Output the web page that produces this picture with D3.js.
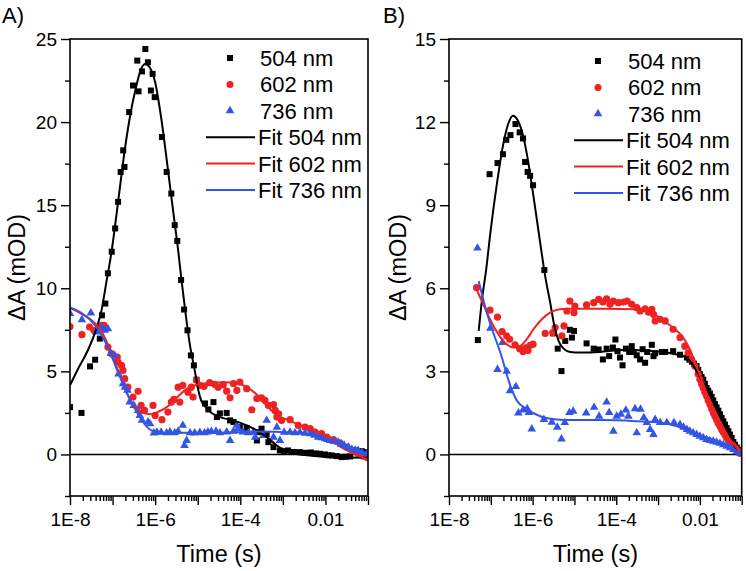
<!DOCTYPE html>
<html><head><meta charset="utf-8">
<script src="https://cdn.jsdelivr.net/npm/d3@7/dist/d3.min.js"></script>
<style>
body{margin:0;background:#fff}
text{font-family:"Liberation Sans",Arial,Helvetica,sans-serif;fill:#000}
</style>
</head><body>
<svg id="chart" width="746" height="571"></svg>
<script>
// ---------- tick labels / legend names ----------
const xTickValues = [1e-8, 1e-6, 1e-4, 1e-2];
const xTickLabels = ["1E-8", "1E-6", "1E-4", "0.01"];
const yTicksA = [0, 5, 10, 15, 20, 25];
const yTicksB = [0, 3, 6, 9, 12, 15];
const scatterNames = ["504 nm", "602 nm", "736 nm"];
const fitNames = ["Fit 504 nm", "Fit 602 nm", "Fit 736 nm"];

// ---------- data: [log10(time / s), ΔA (mOD)] ----------
// Panel A
const a504 = [[-8.00,2.85],[-7.73,2.5],[-7.53,5.3],[-7.41,5.7],[-7.30,6.97],[-7.25,8.37],[-7.17,9.08],[-7.11,10.9],[-7.02,12.2],[-6.94,13.6],[-6.87,15.2],[-6.81,17.0],[-6.75,18.3],[-6.72,17.3],[-6.61,20.6],[-6.52,22.2],[-6.42,23.7],[-6.39,21.85],[-6.31,23.05],[-6.23,24.4],[-6.17,23.6],[-6.10,21.9],[-6.06,22.9],[-6.01,21.5],[-5.84,19.1],[-5.73,17.0],[-5.62,15.7],[-5.54,13.8],[-5.48,12.85],[-5.39,10.5],[-5.32,8.72],[-5.24,7.47],[-5.16,5.96],[-5.09,5.36],[-5.03,4.5],[-4.83,3.07],[-4.75,2.71],[-4.63,3.15],[-4.55,2.25],[-4.48,2.47],[-4.32,2.5],[-4.24,2.05],[-4.16,1.95],[-4.01,1.64],[-3.85,1.6],[-3.61,0.84],[-3.58,1.34],[-3.50,1.55],[-3.38,1.2],[-3.34,0.74],[-3.22,0.44],[-3.07,0.24],[-2.97,0.2],[-2.88,0.24],[-2.74,0.15],[-2.60,0.14],[-2.47,0.1],[-2.34,0.12],[-2.23,0.06],[-2.13,0.04],[-2.01,0.0],[-1.93,-0.05],[-1.85,-0.06],[-1.74,-0.1],[-1.62,-0.16],[-1.52,-0.14],[-1.42,-0.12],[-1.30,0.24],[-1.22,0.1],[-1.15,0.2],[-1.03,0.14]];
const a602 = [[-8.0,7.7],[-7.72,7.21],[-7.54,7.67],[-7.44,7.47],[-7.26,7.77],[-7.20,7.77],[-7.11,6.46],[-7.03,6.07],[-6.89,5.86],[-6.87,5.56],[-6.79,5.36],[-6.755,5.06],[-6.715,4.56],[-6.64,4.05],[-6.52,3.45],[-6.40,3.8],[-6.33,2.95],[-6.25,2.65],[-6.05,2.95],[-6.0,2.35],[-5.84,2.09],[-5.70,2.55],[-5.62,3.15],[-5.56,3.31],[-5.46,4.05],[-5.42,3.15],[-5.35,4.16],[-5.23,3.75],[-5.15,4.05],[-5.11,3.45],[-5.03,4.46],[-4.95,4.16],[-4.85,4.1],[-4.72,4.32],[-4.60,4.22],[-4.52,4.05],[-4.40,4.2],[-4.32,3.81],[-4.24,3.41],[-4.16,4.26],[-4.08,3.86],[-4.01,4.36],[-3.85,3.96],[-3.73,2.69],[-3.61,3.36],[-3.50,3.4],[-3.42,3.25],[-3.34,2.95],[-3.22,3.0],[-3.18,2.65],[-3.14,2.25],[-3.10,2.45],[-3.03,2.05],[-2.83,2.09],[-2.64,1.75],[-2.48,1.64],[-2.36,1.55],[-2.245,1.34],[-2.09,1.25],[-1.97,1.04],[-1.81,0.9],[-1.66,0.7],[-1.50,0.45],[-1.35,0.25],[-1.23,0.05],[-1.12,-0.1],[-1.02,-0.2]];
const a736 = [[-8.0,8.48],[-7.72,8.11],[-7.51,8.51],[-7.38,7.37],[-7.26,7.63],[-7.185,7.47],[-7.11,7.57],[-7.04,6.07],[-6.95,5.96],[-6.86,4.84],[-6.755,4.26],[-6.71,4.05],[-6.65,3.86],[-6.60,3.15],[-6.50,2.95],[-6.40,2.65],[-6.36,2.35],[-6.31,2.05],[-6.17,1.95],[-6.12,1.85],[-6.03,1.29],[-5.96,1.34],[-5.86,1.34],[-5.73,1.3],[-5.65,1.35],[-5.54,1.3],[-5.46,1.4],[-5.35,1.75],[-5.31,0.54],[-5.26,0.84],[-5.18,1.3],[-5.07,1.29],[-4.95,1.32],[-4.84,1.3],[-4.76,1.35],[-4.68,1.38],[-4.57,1.4],[-4.48,1.3],[-4.32,1.35],[-4.24,0.84],[-4.16,1.4],[-4.08,1.75],[-4.05,1.55],[-3.94,1.35],[-3.81,1.3],[-3.69,1.34],[-3.65,1.04],[-3.46,1.14],[-3.38,2.05],[-3.22,1.04],[-3.14,1.64],[-3.07,0.84],[-2.97,1.34],[-2.83,1.34],[-2.715,1.3],[-2.60,1.34],[-2.48,1.28],[-2.36,1.25],[-2.26,1.15],[-2.17,1.04],[-2.09,1.0],[-2.01,0.95],[-1.95,0.9],[-1.89,0.84],[-1.80,0.78],[-1.70,0.74],[-1.63,0.62],[-1.56,0.55],[-1.46,0.44],[-1.38,0.3],[-1.30,0.26],[-1.23,0.24],[-1.14,0.12],[-1.03,0.05]];
const aFit504 = [[-8.0,4.16],[-7.81,5.16],[-7.58,6.27],[-7.38,7.57],[-7.26,8.67],[-7.15,10.3],[-7.03,12.1],[-6.87,15.2],[-6.755,17.55],[-6.60,20.2],[-6.44,22.2],[-6.33,23.2],[-6.23,23.5],[-6.13,23.3],[-6.00,22.4],[-5.855,20.2],[-5.70,17.15],[-5.56,14.3],[-5.46,12.3],[-5.39,10.7],[-5.31,9.0],[-5.19,6.7],[-5.07,5.06],[-4.98,3.8],[-4.92,3.25],[-4.83,2.9],[-4.75,2.65],[-4.48,2.25],[-4.17,2.05],[-3.85,1.75],[-3.54,1.34],[-3.38,1.04],[-3.14,0.54],[-2.91,0.14],[-2.60,0.0],[-1.82,-0.16],[-1.0,-0.2]];
const aFit602 = [[-8.0,8.8],[-7.72,8.45],[-7.48,8.05],[-7.31,7.6],[-7.16,6.9],[-7.0,5.86],[-6.84,4.86],[-6.68,3.8],[-6.53,3.05],[-6.3,2.5],[-6.1,2.42],[-5.9,2.6],[-5.7,2.9],[-5.5,3.4],[-5.26,3.95],[-5.03,4.2],[-4.72,4.3],[-4.4,4.35],[-4.08,4.28],[-3.85,4.05],[-3.61,3.6],[-3.38,2.95],[-3.14,2.35],[-2.9,2.1],[-2.58,1.75],[-2.26,1.45],[-1.95,1.05],[-1.64,0.45],[-1.33,0.04],[-1.0,-0.32]];
const aFit736 = [[-8.0,8.85],[-7.72,8.5],[-7.42,7.8],[-7.1,6.4],[-6.86,4.86],[-6.62,3.45],[-6.36,2.25],[-6.17,1.6],[-6.03,1.38],[-5.86,1.3],[-5.5,1.3],[-4.95,1.3],[-4.17,1.34],[-3.54,1.38],[-2.91,1.34],[-2.44,1.25],[-2.13,1.04],[-1.81,0.74],[-1.5,0.34],[-1.19,0.08],[-1.0,0.0]];

// Panel B
const b504 = [[-7.31,4.13],[-7.03,10.12],[-6.84,10.52],[-6.71,10.84],[-6.63,11.36],[-6.53,11.53],[-6.41,11.93],[-6.31,11.63],[-6.23,11.41],[-6.18,10.56],[-6.12,10.2],[-6.06,10.06],[-5.99,9.72],[-5.72,6.66],[-5.51,4.37],[-5.40,3.82],[-5.31,3.01],[-5.22,4.1],[-5.11,4.5],[-5.06,4.22],[-5.01,4.46],[-4.71,4.01],[-4.54,3.82],[-4.42,3.79],[-4.32,3.43],[-4.23,3.82],[-4.17,3.55],[-4.08,3.86],[-4.02,4.15],[-3.97,3.73],[-3.91,3.5],[-3.85,3.22],[-3.77,3.82],[-3.69,3.7],[-3.63,3.91],[-3.58,3.7],[-3.51,3.58],[-3.43,3.43],[-3.37,3.8],[-3.31,3.31],[-3.26,3.7],[-3.15,3.96],[-3.11,3.55],[-3.07,3.65],[-2.91,3.7],[-2.83,3.7],[-2.64,3.73],[-2.475,3.6],[-2.31,3.5],[-2.25,3.42],[-2.19,3.35],[-2.14,3.28],[-2.08,3.19],[-2.04,3.05],[-2.0,2.9],[-1.96,2.8],[-1.92,2.7],[-1.88,2.55],[-1.84,2.4],[-1.80,2.3],[-1.76,2.2],[-1.72,2.08],[-1.68,1.95],[-1.64,1.82],[-1.60,1.7],[-1.56,1.58],[-1.52,1.45],[-1.48,1.32],[-1.44,1.2],[-1.40,1.08],[-1.36,0.95],[-1.32,0.84],[-1.28,0.72],[-1.24,0.6],[-1.20,0.45],[-1.16,0.35],[-1.12,0.25],[-1.09,0.17],[-1.06,0.08],[-1.02,0.05]];
const b602 = [[-7.34,6.02],[-7.02,5.21],[-6.84,4.96],[-6.73,4.44],[-6.62,4.28],[-6.55,4.16],[-6.42,3.96],[-6.31,3.82],[-6.23,3.72],[-6.17,3.85],[-6.11,3.75],[-6.06,3.94],[-5.99,3.98],[-5.70,4.37],[-5.52,4.4],[-5.46,4.58],[-5.30,4.28],[-5.25,4.64],[-5.18,5.18],[-5.11,5.54],[-5.01,5.12],[-4.99,5.36],[-4.71,5.4],[-4.54,5.48],[-4.42,5.6],[-4.32,5.5],[-4.23,5.62],[-4.15,5.42],[-4.07,5.54],[-3.95,5.48],[-3.83,5.5],[-3.74,5.54],[-3.63,5.42],[-3.51,5.3],[-3.43,5.18],[-3.31,5.26],[-3.23,5.14],[-3.15,5.24],[-3.11,5.06],[-3.07,4.82],[-2.95,4.88],[-2.83,4.82],[-2.64,4.52],[-2.475,4.22],[-2.36,3.91],[-2.28,3.67],[-2.20,3.43],[-2.12,3.19],[-2.04,2.9],[-2.0,2.71],[-1.96,2.55],[-1.92,2.4],[-1.88,2.25],[-1.84,2.11],[-1.80,1.95],[-1.76,1.8],[-1.72,1.65],[-1.68,1.51],[-1.64,1.38],[-1.60,1.25],[-1.56,1.13],[-1.52,1.02],[-1.48,0.9],[-1.44,0.8],[-1.40,0.7],[-1.36,0.6],[-1.32,0.52],[-1.28,0.44],[-1.24,0.37],[-1.20,0.3],[-1.16,0.23],[-1.12,0.17],[-1.08,0.1],[-1.04,0.04]];
const b736 = [[-7.32,7.45],[-7.01,4.56],[-6.84,3.07],[-6.72,4.04],[-6.62,3.0],[-6.54,2.3],[-6.40,2.45],[-6.34,1.5],[-6.23,1.6],[-6.13,1.65],[-6.09,1.51],[-6.02,0.92],[-5.73,1.26],[-5.54,1.16],[-5.41,0.98],[-5.31,0.56],[-5.23,1.15],[-5.12,1.51],[-5.03,1.56],[-4.72,1.5],[-4.53,1.7],[-4.41,1.38],[-4.23,1.89],[-4.17,1.51],[-4.07,0.84],[-3.99,1.38],[-3.89,1.45],[-3.77,1.6],[-3.71,1.38],[-3.55,1.65],[-3.51,0.78],[-3.42,1.63],[-3.34,1.33],[-3.27,1.15],[-3.19,0.9],[-3.11,0.72],[-3.07,1.26],[-2.95,1.15],[-2.79,1.15],[-2.62,1.15],[-2.475,1.08],[-2.39,0.98],[-2.31,0.9],[-2.24,0.84],[-2.16,0.78],[-2.08,0.72],[-2.0,0.66],[-1.92,0.6],[-1.84,0.54],[-1.76,0.5],[-1.68,0.48],[-1.60,0.44],[-1.52,0.4],[-1.44,0.35],[-1.36,0.3],[-1.28,0.24],[-1.20,0.18],[-1.12,0.1],[-1.04,0.04]];
const bFit504 = [[-7.29,4.46],[-7.21,5.6],[-7.11,6.69],[-7.01,8.01],[-6.85,9.82],[-6.71,11.14],[-6.60,11.86],[-6.47,12.23],[-6.37,12.1],[-6.25,11.63],[-6.13,10.78],[-5.97,9.22],[-5.82,7.65],[-5.70,6.44],[-5.58,5.48],[-5.48,4.64],[-5.38,4.1],[-5.26,3.82],[-5.10,3.7],[-4.86,3.68],[-4.39,3.7],[-3.83,3.77],[-3.03,3.73],[-2.55,3.61],[-2.31,3.49],[-2.20,3.31],[-2.08,3.01],[-1.92,2.59],[-1.76,2.11],[-1.60,1.63],[-1.44,1.15],[-1.28,0.66],[-1.12,0.18],[-1.0,0.04]];
const bFit602 = [[-7.34,5.96],[-7.18,5.42],[-7.02,4.88],[-6.82,4.34],[-6.62,3.98],[-6.46,3.86],[-6.30,3.91],[-6.14,4.16],[-5.98,4.52],[-5.78,4.88],[-5.58,5.12],[-5.35,5.24],[-5.11,5.26],[-4.31,5.26],[-3.51,5.24],[-3.11,5.08],[-2.87,4.82],[-2.64,4.58],[-2.40,4.22],[-2.24,3.79],[-2.08,3.19],[-1.84,2.23],[-1.60,1.38],[-1.36,0.72],[-1.12,0.24],[-1.0,0.04]];
const bFit736 = [[-7.29,6.26],[-7.14,5.36],[-7.01,4.7],[-6.77,3.67],[-6.53,2.47],[-6.37,1.93],[-6.13,1.63],[-5.82,1.38],[-5.42,1.26],[-5.10,1.24],[-4.31,1.24],[-3.51,1.2],[-2.95,1.15],[-2.55,1.02],[-2.24,0.84],[-1.92,0.66],[-1.60,0.48],[-1.28,0.28],[-1.0,0.0]];

// ---------- drawing ----------
const COL = {black:"#000000", red:"#ee2222", blue:"#3355e6"};
const svg = d3.select("#chart");

function drawPanel(p){
  const g = svg.append("g");
  const x = d3.scaleLog().domain([1e-8, 0.1]).range([p.left, p.right]);
  const y = d3.scaleLinear().domain(p.yDomain).range([p.bottom, p.top]);
  const X = d => x(Math.pow(10, d[0]));
  const Y = d => y(d[1]);

  const clipId = "clip" + p.id;
  svg.append("clipPath").attr("id", clipId).append("rect")
    .attr("x", p.left).attr("y", p.top).attr("width", p.right - p.left).attr("height", p.bottom - p.top);
  const plot = g.append("g").attr("clip-path", `url(#${clipId})`);

  // zero line
  plot.append("line").attr("x1", p.left).attr("x2", p.right)
    .attr("y1", y(0)).attr("y2", y(0)).attr("stroke", "#000").attr("stroke-width", 1.5);

  // scatter
  const sq = 6;
  plot.append("g").selectAll("rect").data(p.s504).join("rect")
    .attr("x", d => X(d) - sq/2).attr("y", d => Y(d) - sq/2)
    .attr("width", sq).attr("height", sq).attr("fill", COL.black);
  plot.append("g").selectAll("circle").data(p.s602).join("circle")
    .attr("cx", X).attr("cy", Y).attr("r", 3.6).attr("fill", COL.red);
  const tri = d3.symbol().type(d3.symbolTriangle).size(32);
  plot.append("g").selectAll("path").data(p.s736).join("path")
    .attr("d", tri).attr("transform", d => `translate(${X(d)},${Y(d)})`).attr("fill", COL.blue);

  // fits
  const line = d3.line().x(X).y(Y).curve(d3.curveMonotoneX);
  [[p.f504, COL.black], [p.f602, COL.red], [p.f736, COL.blue]].forEach(([data, c]) => {
    plot.append("path").datum(data).attr("d", line)
      .attr("fill", "none").attr("stroke", c).attr("stroke-width", 2);
  });

  // axes
  const decades = d3.range(-8, 0).map(e => Math.pow(10, e));
  const minor = [];
  d3.range(-8, -1).forEach(e => { for (let k = 2; k <= 9; k++) minor.push(k * Math.pow(10, e)); });
  const labelOf = v => { const i = xTickValues.findIndex(t => Math.abs(Math.log10(t) - Math.log10(v)) < 1e-6); return i >= 0 ? xTickLabels[i] : ""; };

  const xMaj = g.append("g").attr("transform", `translate(0,${p.bottom})`)
    .call(d3.axisBottom(x).tickValues(decades).tickSize(9).tickPadding(8).tickFormat(labelOf));
  const xMin = g.append("g").attr("transform", `translate(0,${p.bottom})`)
    .call(d3.axisBottom(x).tickValues(minor).tickSize(5).tickFormat(""));
  const yStep = p.yTicks[1] - p.yTicks[0];
  const yMinor = d3.range(p.yDomain[0], p.yDomain[1] + 1e-9, yStep / 2).filter(v => !p.yTicks.some(t => Math.abs(t - v) < 1e-9));
  const yMaj = g.append("g").attr("transform", `translate(${p.left},0)`)
    .call(d3.axisLeft(y).tickValues(p.yTicks).tickSize(9).tickPadding(4).tickFormat(d3.format("d")));
  const yMin = g.append("g").attr("transform", `translate(${p.left},0)`)
    .call(d3.axisLeft(y).tickValues(yMinor).tickSize(5).tickFormat(""));
  [xMaj, xMin, yMaj, yMin].forEach(a => {
    a.select(".domain").remove();
    a.selectAll(".tick line").attr("stroke", "#000").attr("stroke-width", 1.4);
    a.selectAll("text").attr("font-size", 19).attr("fill", "#000")
      .attr("font-family", '"Liberation Sans",Arial,sans-serif');
  });

  // frame
  g.append("rect").attr("x", p.left).attr("y", p.top)
    .attr("width", p.right - p.left).attr("height", p.bottom - p.top)
    .attr("fill", "none").attr("stroke", "#000").attr("stroke-width", 1.6);

  // titles
  g.append("text").attr("x", (p.left + p.right) / 2).attr("y", 562)
    .attr("text-anchor", "middle").attr("font-size", 23.5).text("Time (s)");
  g.append("text").attr("transform", `translate(${p.titleX},${(p.top + p.bottom) / 2}) rotate(-90)`)
    .attr("text-anchor", "middle").attr("font-size", 23.5).text("\u0394A (mOD)");
  g.append("text").attr("x", p.labelX).attr("y", 23).attr("font-size", 22).text(p.label);

  // legend
  const lg = g.append("g");
  const rowY = i => p.legendTop + i * 26.4;
  const marks = [
    s => s.append("rect").attr("x", -3).attr("y", -3).attr("width", 6).attr("height", 6).attr("fill", COL.black),
    s => s.append("circle").attr("r", 3.5).attr("fill", COL.red),
    s => s.append("path").attr("d", tri).attr("fill", COL.blue)
  ];
  scatterNames.forEach((n, i) => {
    const s = lg.append("g").attr("transform", `translate(${p.legendSym},${rowY(i)})`);
    marks[i](s);
    lg.append("text").attr("x", p.legendText).attr("y", rowY(i)).attr("dy", "0.36em")
      .attr("font-size", 22).text(n);
  });
  [COL.black, COL.red, COL.blue].forEach((c, i) => {
    const yy = rowY(i + 3);
    lg.append("line").attr("x1", p.legendSym - 24).attr("x2", p.legendSym + 25)
      .attr("y1", yy).attr("y2", yy).attr("stroke", c).attr("stroke-width", 2);
    lg.append("text").attr("x", p.legendText - 2).attr("y", yy).attr("dy", "0.36em")
      .attr("font-size", 22).text(fitNames[i]);
  });
}

drawPanel({id:"A", left:70, right:368, top:39, bottom:496, yDomain:[-2.5,25], yTicks:yTicksA,
  s504:a504, s602:a602, s736:a736, f504:aFit504, f602:aFit602, f736:aFit736,
  label:"A)", labelX:2, titleX:25, legendTop:58, legendSym:230, legendText:260});
drawPanel({id:"B", left:449, right:741.7, top:39, bottom:496, yDomain:[-1.5,15], yTicks:yTicksB,
  s504:b504, s602:b602, s736:b736, f504:bFit504, f602:bFit602, f736:bFit736,
  label:"B)", labelX:383, titleX:406, legendTop:61, legendSym:598, legendText:628});
</script>
</body></html>
